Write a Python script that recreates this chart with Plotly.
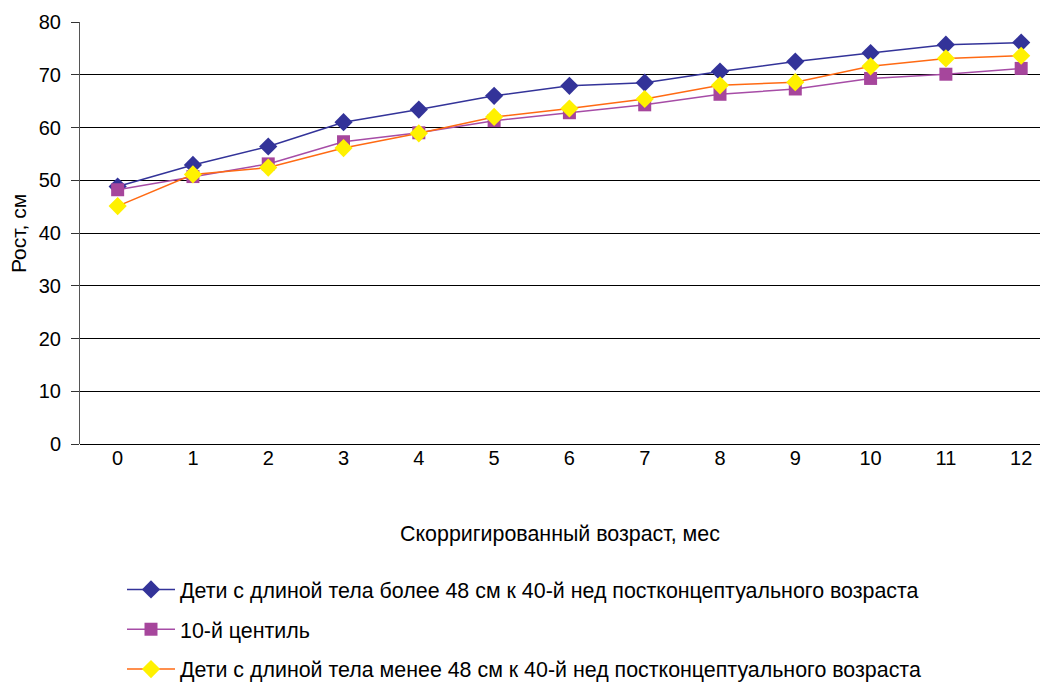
import plotly.graph_objects as go

months = list(range(13))
tick_labels = [str(m) for m in months]
above48 = [48.8, 52.9, 56.4, 61.0, 63.4, 66.0, 67.9, 68.5, 70.6, 72.5, 74.1, 75.7, 76.1]
centile10 = [48.2, 50.7, 53.1, 57.3, 59.0, 61.3, 62.8, 64.3, 66.3, 67.3, 69.3, 70.1, 71.2]
below48 = [45.1, 51.1, 52.4, 56.1, 58.9, 62.0, 63.6, 65.4, 68.0, 68.6, 71.6, 73.1, 73.6]

names = [
    "Дети с длиной тела более 48 см к 40-й нед постконцептуального возраста",
    "10-й центиль",
    "Дети с длиной тела менее 48 см к 40-й нед постконцептуального возраста",
]

font = "Liberation Sans, Arial, sans-serif"
fig = go.Figure()
fig.add_trace(go.Scatter(x=months, y=above48, name=names[0], mode="lines+markers",
                         line=dict(color="#333399", width=1.5), legendgroup="a",
                         marker=dict(symbol="diamond", size=14, color="#333399")))
fig.add_trace(go.Scatter(x=months, y=centile10, name=names[1], mode="lines+markers",
                         line=dict(color="#A64CA6", width=1.5), legendgroup="b",
                         marker=dict(symbol="square", size=13, color="#A6469C")))
fig.add_trace(go.Scatter(x=months, y=below48, name=names[2], mode="lines+markers",
                         line=dict(color="#FF6A13", width=1.5), legendgroup="c",
                         marker=dict(symbol="diamond", size=14, color="#FFF100")))

fig.update_layout(
    width=1047, height=682,
    margin=dict(l=80, r=7, t=22, b=238, autoexpand=False),
    paper_bgcolor="white", plot_bgcolor="white",
    font=dict(family=font, size=18, color="black"),
    showlegend=True,
    legend=dict(orientation="v", xref="container", yref="container",
                x=122 / 1047, y=(682 - 569) / 682, xanchor="left", yanchor="top",
                tracegroupgap=9, itemwidth=48, font=dict(family=font, size=21.4)),
    xaxis=dict(range=[-0.5, 12.25], tickmode="array", tickvals=months, ticktext=tick_labels,
               showgrid=False, zeroline=False, showline=False, ticks="",
               tickfont=dict(family=font, size=20),
               ticklabelstandoff=0, automargin=False,
               title=dict(text="Скорригированный возраст, мес", standoff=58,
                          font=dict(family=font, size=21.4))),
    yaxis=dict(range=[0, 80], dtick=10, showgrid=True, gridcolor="black", gridwidth=1,
               zeroline=True, zerolinecolor="black", zerolinewidth=1,
               showline=True, linecolor="#555555", linewidth=1,
               ticks="outside", ticklen=8, tickcolor="#333333", tickwidth=1,
               tickfont=dict(family=font, size=20),
               ticklabelstandoff=6, automargin=False),
    annotations=[dict(text="Рост, см", xref="paper", yref="paper", x=-62 / 960, y=0.5,
                      xanchor="center", yanchor="middle", textangle=-90, showarrow=False,
                      font=dict(family=font, size=21))],
)

fig.write_html("out.html")
